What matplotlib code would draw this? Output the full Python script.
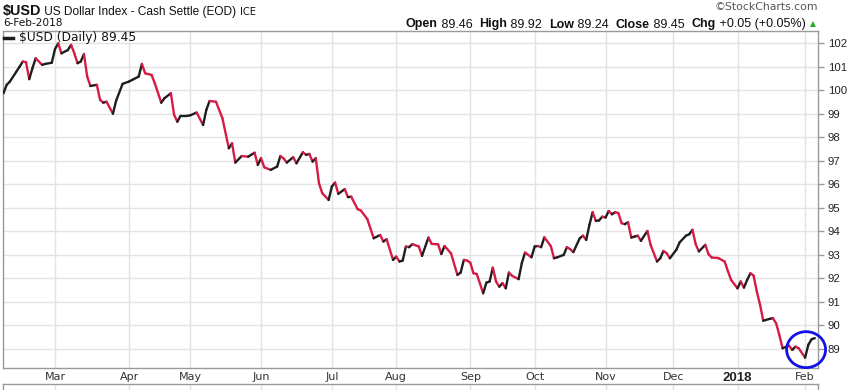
import numpy as np
import pandas as pd
import matplotlib
matplotlib.use("Agg")
import matplotlib.pyplot as plt
from matplotlib.collections import LineCollection
from matplotlib.patches import Ellipse
from matplotlib.lines import Line2D

# ---------------- data ----------------
dates = [
    "2017-02-06", "2017-02-07", "2017-02-08", "2017-02-10", "2017-02-13", "2017-02-14", "2017-02-15",
    "2017-02-16", "2017-02-17", "2017-02-21", "2017-02-23", "2017-02-24", "2017-02-28", "2017-03-01",
    "2017-03-02", "2017-03-03", "2017-03-07", "2017-03-08", "2017-03-09", "2017-03-10", "2017-03-13",
    "2017-03-14", "2017-03-15", "2017-03-16", "2017-03-20", "2017-03-21", "2017-03-22", "2017-03-23",
    "2017-03-27", "2017-03-28", "2017-03-30", "2017-04-03", "2017-04-04", "2017-04-06", "2017-04-07",
    "2017-04-10", "2017-04-12", "2017-04-13", "2017-04-18", "2017-04-19", "2017-04-21", "2017-04-24",
    "2017-04-25", "2017-04-26", "2017-04-28", "2017-05-01", "2017-05-03", "2017-05-05", "2017-05-08",
    "2017-05-09", "2017-05-11", "2017-05-15", "2017-05-17", "2017-05-18", "2017-05-19", "2017-05-23",
    "2017-05-25", "2017-05-30", "2017-05-31", "2017-06-01", "2017-06-02", "2017-06-06", "2017-06-08",
    "2017-06-09", "2017-06-12", "2017-06-13", "2017-06-15", "2017-06-16", "2017-06-20", "2017-06-21",
    "2017-06-22", "2017-06-23", "2017-06-26", "2017-06-27", "2017-06-28", "2017-06-30", "2017-07-03",
    "2017-07-05", "2017-07-06", "2017-07-10", "2017-07-11", "2017-07-12", "2017-07-14", "2017-07-17",
    "2017-07-19", "2017-07-21", "2017-07-25", "2017-07-26", "2017-07-27", "2017-07-31", "2017-08-01",
    "2017-08-02", "2017-08-03", "2017-08-04", "2017-08-07", "2017-08-08", "2017-08-10", "2017-08-11",
    "2017-08-15", "2017-08-16", "2017-08-18", "2017-08-21", "2017-08-22", "2017-08-24", "2017-08-28",
    "2017-08-29", "2017-08-30", "2017-08-31", "2017-09-01", "2017-09-05", "2017-09-06", "2017-09-08",
    "2017-09-11", "2017-09-12", "2017-09-13", "2017-09-14", "2017-09-15", "2017-09-18", "2017-09-19",
    "2017-09-20", "2017-09-21", "2017-09-25", "2017-09-26", "2017-09-27", "2017-09-29", "2017-10-02",
    "2017-10-03", "2017-10-04", "2017-10-05", "2017-10-09", "2017-10-10", "2017-10-11", "2017-10-13",
    "2017-10-16", "2017-10-17", "2017-10-18", "2017-10-20", "2017-10-23", "2017-10-24", "2017-10-25",
    "2017-10-26", "2017-10-27", "2017-10-30", "2017-10-31", "2017-11-01", "2017-11-02", "2017-11-03",
    "2017-11-06", "2017-11-07", "2017-11-08", "2017-11-09", "2017-11-10", "2017-11-13", "2017-11-14",
    "2017-11-15", "2017-11-16", "2017-11-20", "2017-11-21", "2017-11-24", "2017-11-27", "2017-11-28",
    "2017-11-29", "2017-11-30", "2017-12-04", "2017-12-05", "2017-12-07", "2017-12-08", "2017-12-11",
    "2017-12-12", "2017-12-13", "2017-12-15", "2017-12-18", "2017-12-19", "2017-12-21", "2017-12-26",
    "2017-12-27", "2017-12-28", "2018-01-02", "2018-01-03", "2018-01-04", "2018-01-05", "2018-01-08",
    "2018-01-09", "2018-01-10", "2018-01-11", "2018-01-12", "2018-01-17", "2018-01-18", "2018-01-19",
    "2018-01-22", "2018-01-23", "2018-01-25", "2018-01-26", "2018-01-29", "2018-01-30", "2018-02-01",
    "2018-02-02", "2018-02-05", "2018-02-06",
]
closes = [
    99.87, 100.23, 100.37, 100.79, 101.00, 101.22, 101.19,
    100.47, 100.94, 101.36, 101.08, 101.12, 101.17, 101.75,
    102.00, 101.57, 101.71, 101.93, 101.57, 101.15, 101.22,
    101.54, 100.58, 100.18, 100.23, 99.59, 99.47, 99.51,
    99.00, 99.56, 100.27, 100.37, 100.44, 100.58, 101.12,
    100.72, 100.65, 100.30, 99.47, 99.66, 99.87, 98.95,
    98.66, 98.91, 98.91, 98.93, 99.05, 98.52, 99.16,
    99.54, 99.51, 98.81, 97.53, 97.74, 96.92, 97.20,
    97.17, 97.34, 96.82, 97.11, 96.72, 96.61, 96.75,
    97.20, 97.10, 96.92, 97.15, 96.89, 97.36, 97.25,
    97.29, 96.96, 97.11, 96.04, 95.62, 95.33, 95.90,
    96.07, 95.59, 95.79, 95.45, 95.47, 94.94, 94.88,
    94.52, 93.70, 93.84, 93.56, 93.66, 92.78, 92.92,
    92.71, 92.75, 93.35, 93.32, 93.45, 93.35, 92.95,
    93.73, 93.46, 93.44, 93.03, 93.37, 93.06, 92.14,
    92.24, 92.78, 92.75, 92.66, 92.21, 92.18, 91.36,
    91.81, 91.86, 92.45, 91.86, 91.64, 91.79, 91.57,
    92.24, 92.10, 91.96, 92.64, 93.09, 92.89, 93.35,
    93.37, 93.32, 93.74, 93.37, 92.85, 92.89, 92.99,
    93.32, 93.24, 93.11, 93.70, 93.81, 93.63, 94.27,
    94.81, 94.44, 94.46, 94.62, 94.58, 94.86, 94.72,
    94.81, 94.77, 94.34, 94.30, 94.38, 93.73, 93.77,
    93.81, 93.59, 94.01, 93.42, 92.71, 92.85, 93.16,
    93.06, 92.85, 93.21, 93.52, 93.81, 93.87, 94.06,
    93.45, 93.14, 93.42, 93.02, 92.88, 92.86, 92.71,
    92.31, 91.93, 91.57, 91.86, 91.60, 91.93, 92.21,
    92.11, 91.43, 90.87, 90.19, 90.27, 90.30, 90.08,
    89.58, 89.02, 89.13, 88.95, 89.09, 89.02, 88.62,
    89.17, 89.40, 89.45,
]
market_holidays = ["2017-02-20", "2017-04-14", "2017-05-29", "2017-07-04", "2017-09-04",
                   "2017-11-23", "2017-12-25", "2018-01-01", "2018-01-15"]
y_ticks = list(range(89, 103))
month_labels = ["Mar", "Apr", "May", "Jun", "Jul", "Aug", "Sep", "Oct", "Nov", "Dec", "2018", "Feb"]

# ---------------- figure ----------------
W, H = 847, 390
fig = plt.figure(figsize=(W / 100, H / 100), dpi=100)
fig.patch.set_facecolor("white")


def fx(px):
    return px / W


def fy(py):
    return 1 - py / H


GRID = "#e3e3e3"
BORDER = "#9a9a9a"
RED = "#d81b44"
BLACK = "#1e1e1e"

# trading-day calendar -> x axis is trading-day index (no weekend gaps)
cal = pd.bdate_range("2017-02-06", "2018-02-06")
cal = cal[~cal.isin(pd.to_datetime(market_holidays))]
pos = cal.get_indexer(pd.to_datetime(dates)).astype(float)
vals = np.array(closes)

month_first = pd.Series(np.arange(len(cal)), index=cal).groupby([cal.year, cal.month]).first()
month_pos = month_first.values[1:]  # skip Feb 2017

ax_left, ax_right, ax_top, ax_bot = 3, 818, 31, 367.5
ax = fig.add_axes([fx(ax_left), fy(ax_bot), fx(ax_right) - fx(ax_left), fy(ax_top) - fy(ax_bot)])
ax.set_xlim(-0.15, 253.0)
ax.set_ylim(88.20, 102.52)

pts = np.column_stack([pos, vals])
segs = np.stack([pts[:-1], pts[1:]], axis=1)
cols = [BLACK if vals[i + 1] >= vals[i] else RED for i in range(len(vals) - 1)]
lc = LineCollection(segs, colors=cols, linewidths=1.7, capstyle="round", joinstyle="round", zorder=3)
ax.add_collection(lc)

ax.set_yticks(y_ticks)
ax.set_xticks(month_pos)
ax.set_xticklabels(month_labels)
ax.grid(True, color=GRID, linewidth=1.0, zorder=0)
ax.set_axisbelow(True)
ax.yaxis.tick_right()
ax.tick_params(axis="y", which="both", length=4, width=1, color=BORDER, pad=3,
               labelsize=8, labelcolor="#222222")
ax.tick_params(axis="x", length=0, pad=3, labelsize=8, labelcolor="#333333")
for lab in ax.get_xticklabels():
    lab.set_fontfamily("DejaVu Sans")
    if lab.get_text() == "2018":
        lab.set_fontweight("bold")
        lab.set_fontfamily("Liberation Sans")
        lab.set_fontsize(9.5)
        lab.set_color("#222222")
for lab in ax.get_yticklabels():
    lab.set_fontfamily("Liberation Sans")
    lab.set_fontsize(8.2)
for s in ax.spines.values():
    s.set_color(BORDER)
    s.set_linewidth(1.0)

# circle annotation around the recent low
i_min = int(np.argmin(vals))
ell = Ellipse((pos[i_min] + 0.3, vals[i_min] + 0.34), width=12.1, height=1.53,
              fill=False, edgecolor="#1111e8", linewidth=2.0, zorder=5, clip_on=False)
ax.add_patch(ell)

# legend entry
fig.add_artist(Line2D([fx(4), fx(13)], [fy(37.5), fy(37.5)], color=BLACK, linewidth=2.5))
fig.text(fx(19), fy(37.5), "$USD (Daily) 89.45", fontsize=8.8, family="DejaVu Sans",
         color="#111111", va="center", ha="left")

# lower (cut-off) panel
ax2 = fig.add_axes([fx(ax_left), fy(420), fx(ax_right) - fx(ax_left), fy(384) - fy(420)])
ax2.set_xlim(ax.get_xlim())
ax2.set_ylim(0, 1)
ax2.set_xticks(month_pos)
ax2.set_yticks([])
ax2.grid(True, axis="x", color=GRID, linewidth=1.0)
ax2.tick_params(axis="x", length=0, labelbottom=False)
for s in ax2.spines.values():
    s.set_color(BORDER)
    s.set_linewidth(1.0)

# ---------------- header ----------------
fig.canvas.draw()
renderer = fig.canvas.get_renderer()


def run_left(x, y, pieces):
    for txt, kw in pieces:
        t = fig.text(fx(x), fy(y), txt, ha="left", va="baseline", **kw)
        bb = t.get_window_extent(renderer)
        x += bb.width


def run_right(x, y, pieces):
    for txt, kw in reversed(pieces):
        t = fig.text(fx(x), fy(y), txt, ha="right", va="baseline", **kw)
        bb = t.get_window_extent(renderer)
        x -= bb.width


AR = dict(family="Liberation Sans", color="#111111")
run_left(3, 15, [
    ("$USD", dict(fontsize=10.4, fontweight="bold", **AR)),
    (" US Dollar Index - Cash Settle (EOD) ", dict(fontsize=8.6, **AR)),
    ("ICE", dict(fontsize=7.2, family="DejaVu Sans", color="#111111")),
])
fig.text(fx(3), fy(26.5), "6-Feb-2018", fontsize=7.6, family="DejaVu Sans", color="#111111",
         ha="left", va="baseline")

fig.text(fx(818), fy(9.5), "\u00a9StockCharts.com", fontsize=7.8, family="DejaVu Sans",
         color="#555555", ha="right", va="baseline")

B = dict(fontsize=9.0, fontweight="bold", **AR)
R = dict(fontsize=9.0, **AR)
run_right(809, 27.5, [
    ("Open", B), (" 89.46  ", R),
    ("High", B), (" 89.92  ", R),
    ("Low", B), (" 89.24  ", R),
    ("Close", B), (" 89.45  ", R),
    ("Chg", B), (" +0.05 (+0.05%) ", R),
])
fig.text(fx(810), fy(26.5), "\u25b2", fontsize=5.5, family="DejaVu Sans", color="#22aa22",
         ha="left", va="baseline")

fig.savefig("out.png", dpi=100, facecolor="white")
